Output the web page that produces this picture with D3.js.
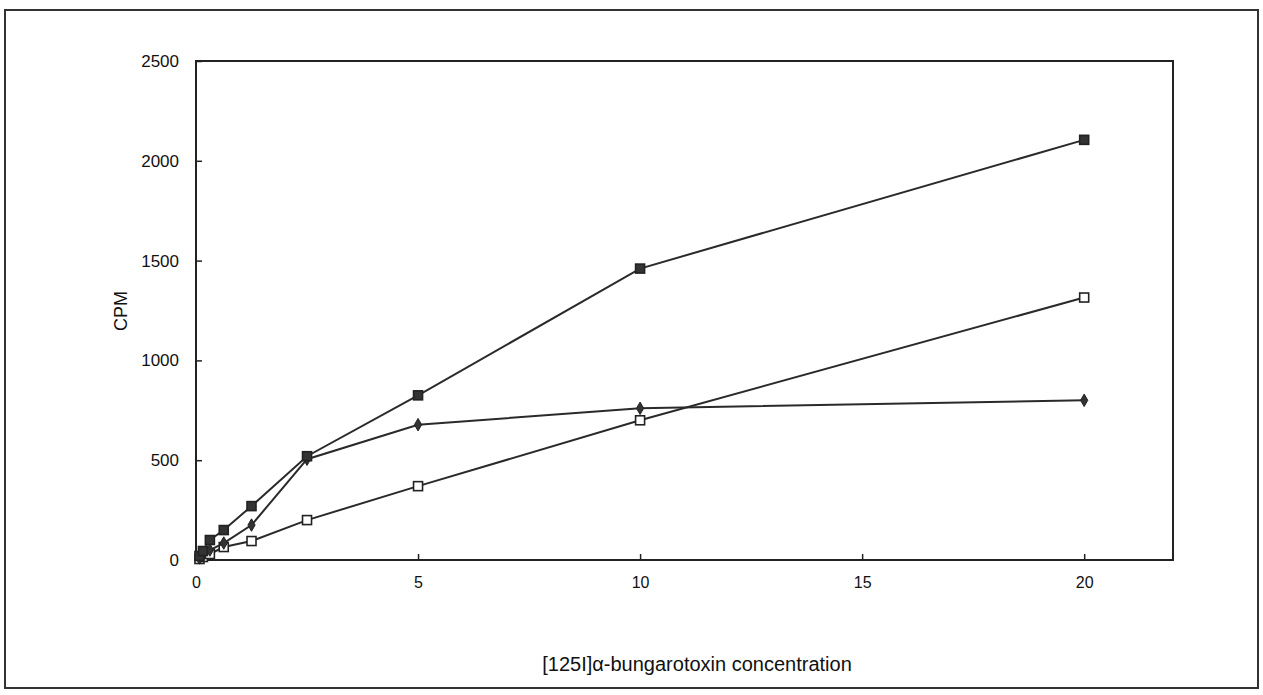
<!DOCTYPE html>
<html>
<head>
<meta charset="utf-8">
<script src="https://cdn.jsdelivr.net/npm/d3@7"></script>
<style>
  html, body { margin: 0; padding: 0; background: #fff; }
  svg { display: block; }
  text { font-family: "Liberation Sans", Arial, Helvetica, sans-serif; fill: #111; }
</style>
</head>
<body>
<svg id="chart" width="1263" height="695"></svg>
<script>
// Toxin concentrations (doubling dilutions)
const concentrations = [0.078, 0.156, 0.3125, 0.625, 1.25, 2.5, 5, 10, 20];
// CPM for each series
const filledSquares = [20, 45, 100, 150, 270, 520, 825, 1460, 2105];
const diamonds      = [10, 25, 50, 85, 175, 505, 678, 760, 800];
const openSquares   = [5, 15, 30, 65, 95, 200, 370, 700, 1315];
const xTicks = [0, 5, 10, 15, 20];
const yTicks = [0, 500, 1000, 1500, 2000, 2500];

const svg = d3.select("#chart");
const plot = { left: 196, right: 1173, top: 61, bottom: 560 };

// outer frame
svg.append("rect")
  .attr("x", 5).attr("y", 10).attr("width", 1253).attr("height", 678)
  .attr("fill", "none").attr("stroke", "#333").attr("stroke-width", 2);

const x = d3.scaleLinear().domain([0, 22]).range([plot.left, plot.right]);
const y = d3.scaleLinear().domain([0, 2500]).range([plot.bottom, plot.top]);

// plot frame
svg.append("rect")
  .attr("x", plot.left).attr("y", plot.top)
  .attr("width", plot.right - plot.left).attr("height", plot.bottom - plot.top)
  .attr("fill", "none").attr("stroke", "#222").attr("stroke-width", 2);

const fmt = d3.format("d");

// x axis: ticks pointing into the plot
const xAxis = svg.append("g")
  .attr("transform", `translate(0,${plot.bottom})`)
  .call(d3.axisBottom(x).tickValues(xTicks).tickFormat(fmt)
    .tickSizeInner(-6).tickSizeOuter(0).tickPadding(17));
xAxis.select(".domain").remove();
xAxis.selectAll("line").attr("stroke", "#222").attr("stroke-width", 1.5);
xAxis.selectAll("text").attr("font-size", 16).style("fill", "#111");

// y axis: ticks pointing into the plot
const yAxis = svg.append("g")
  .attr("transform", `translate(${plot.left},0)`)
  .call(d3.axisLeft(y).tickValues(yTicks).tickFormat(fmt)
    .tickSizeInner(-6).tickSizeOuter(0).tickPadding(17));
yAxis.select(".domain").remove();
yAxis.selectAll("line").attr("stroke", "#222").attr("stroke-width", 1.5);
yAxis.selectAll("text").attr("font-size", 17).style("fill", "#111");

// axis titles
svg.append("text")
  .attr("x", 697).attr("y", 671)
  .attr("text-anchor", "middle").attr("font-size", 20)
  .text("[125I]α-bungarotoxin concentration");

svg.append("text")
  .attr("transform", `translate(127,311) rotate(-90)`)
  .attr("text-anchor", "middle").attr("font-size", 18)
  .text("CPM");

const line = d3.line().x(d => x(d[0])).y(d => y(d[1]));
const toPts = vals => concentrations.map((c, i) => [c, vals[i]]);

const series = [
  { vals: openSquares, marker: "openSquare" },
  { vals: diamonds, marker: "diamond" },
  { vals: filledSquares, marker: "filledSquare" }
];

series.forEach(s => {
  const pts = toPts(s.vals);
  svg.append("path")
    .datum(pts)
    .attr("d", line)
    .attr("fill", "none")
    .attr("stroke", "#2a2a2a")
    .attr("stroke-width", 2);

  const g = svg.append("g");
  if (s.marker === "diamond") {
    g.selectAll("path").data(pts).enter().append("path")
      .attr("d", d3.symbol().type(d3.symbolDiamond).size(45))
      .attr("transform", d => `translate(${x(d[0])},${y(d[1])})`)
      .attr("fill", "#333").attr("stroke", "#222").attr("stroke-width", 1);
  } else {
    const filled = s.marker === "filledSquare";
    g.selectAll("rect").data(pts).enter().append("rect")
      .attr("x", d => x(d[0]) - 4.5).attr("y", d => y(d[1]) - 4.5)
      .attr("width", 9).attr("height", 9)
      .attr("fill", filled ? "#333" : "#fff")
      .attr("stroke", "#222").attr("stroke-width", 1.6);
  }
});
</script>
</body>
</html>
